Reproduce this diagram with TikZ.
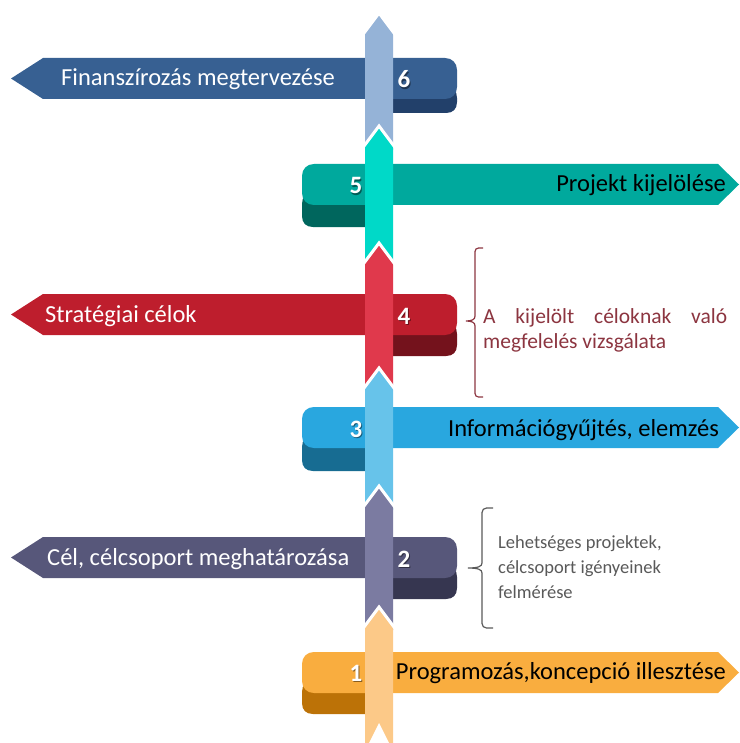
\documentclass[tikz,border=0pt]{standalone}
\usepackage{fontspec}
\setmainfont{Carlito}
\definecolor{cSixBand}{HTML}{376092}\definecolor{cSixFold}{HTML}{22406A}\definecolor{cSixPole}{HTML}{95B3D7}
\definecolor{cFiveBand}{HTML}{00A99D}\definecolor{cFiveFold}{HTML}{00665D}\definecolor{cFivePole}{HTML}{00D9C8}
\definecolor{cFourBand}{HTML}{BE1E2D}\definecolor{cFourFold}{HTML}{74121C}\definecolor{cFourPole}{HTML}{E0394C}
\definecolor{cThreeBand}{HTML}{29A7DF}\definecolor{cThreeFold}{HTML}{176C92}\definecolor{cThreePole}{HTML}{67C3EA}
\definecolor{cTwoBand}{HTML}{57577A}\definecolor{cTwoFold}{HTML}{363650}\definecolor{cTwoPole}{HTML}{7B7BA1}
\definecolor{cOneBand}{HTML}{F9AD3F}\definecolor{cOneFold}{HTML}{BC7207}\definecolor{cOnePole}{HTML}{FCC988}
\definecolor{cBrRed}{HTML}{8C3540}\definecolor{cBrGray}{HTML}{595959}
\newcommand\LRibbon[4]{%
  \fill[#3] (380,#1+28) -- (446,#1+28) .. controls (453,#1+28) and (457,#1+33) .. (457,#1+40)
    -- (457,#1+#4-11) .. controls (457,#1+#4-4) and (453,#1+#4) .. (446,#1+#4) -- (380,#1+#4) -- cycle;
  \fill[#2] (11,#1+20.5) -- (43,#1) -- (445,#1) .. controls (452,#1) and (457,#1+5) .. (457,#1+12)
    -- (457,#1+29) .. controls (457,#1+36) and (452,#1+41) .. (445,#1+41) -- (43,#1+41) -- cycle;}
\newcommand\RRibbon[4]{%
  \fill[#3] (378,#1+28) -- (313,#1+28) .. controls (306,#1+28) and (302,#1+33) .. (302,#1+40)
    -- (302,#1+#4-11) .. controls (302,#1+#4-4) and (306,#1+#4) .. (313,#1+#4) -- (378,#1+#4) -- cycle;
  \fill[#2] (739,#1+20.5) -- (718,#1) -- (314,#1) .. controls (307,#1) and (302,#1+5) .. (302,#1+12)
    -- (302,#1+29) .. controls (302,#1+36) and (307,#1+41) .. (314,#1+41) -- (718,#1+41) -- cycle;}
\newcommand\PoleSeg[3]{%
  \fill[#3] (365,#1+20) -- (379,#1) -- (393,#1+20) -- (393,#2) -- (365,#2) -- cycle;
  \draw[white, line width=3pt, line join=miter] (363,#1+21.4) -- (379,#1) -- (395,#1+21.4);}
\begin{document}
\begin{tikzpicture}[x=1pt,y=-1pt,
  bantext/.style={font=\fontsize{24.5}{29}\selectfont, inner sep=0pt},
  numtext/.style={font=\fontsize{25}{29}\selectfont\bfseries, inner sep=0pt, text=white, anchor=base},
  numshadow/.style={font=\fontsize{25}{29}\selectfont\bfseries, inner sep=0pt, text=black, opacity=0.45, anchor=base},
  brtext/.style={font=\fontsize{18.5}{22}\selectfont, inner sep=0pt, anchor=base west},
  brtextbig/.style={font=\fontsize{21.5}{25}\selectfont, inner sep=0pt, anchor=base west},
  bracket/.style={line width=1.2pt}]
\useasboundingbox (0,0) rectangle (739,743);
% ribbons
\LRibbon{58}{cSixBand}{cSixFold}{55}
\RRibbon{164}{cFiveBand}{cFiveFold}{63}
\LRibbon{294}{cFourBand}{cFourFold}{62}
\RRibbon{407}{cThreeBand}{cThreeFold}{64}
\LRibbon{537}{cTwoBand}{cTwoFold}{62}
\RRibbon{652}{cOneBand}{cOneFold}{62}
% pole
\PoleSeg{13}{150}{cSixPole}
\PoleSeg{126}{265}{cFivePole}
\PoleSeg{243}{390}{cFourPole}
\PoleSeg{368}{510}{cThreePole}
\PoleSeg{486}{630}{cTwoPole}
\PoleSeg{607}{760}{cOnePole}
\fill[white] (359,763) -- (379,723) -- (399,763) -- cycle;
% ribbon texts
\node[bantext, text=white, anchor=base west] (t6) at (61,86) {Finanszírozás megtervezése};
\node[bantext, anchor=base east] (t5) at (726,192) {Projekt kijelölése};
\node[bantext, text=white, anchor=base west] (t4) at (45,322) {Stratégiai célok};
\node[bantext, anchor=base east] (t3) at (719,436) {Információgyűjtés, elemzés};
\node[bantext, text=white, anchor=base west] (t2) at (47,565) {Cél, célcsoport meghatározása};
\node[bantext, anchor=base east] (t1) at (726,679) {Programozás,koncepció illesztése};
% numbers
\node[numshadow] (s6) at (405,89.5) {6};\node[numtext] (n6) at (404,88) {6};
\node[numshadow] (s5) at (357,195.5) {5};\node[numtext] (n5) at (356,194) {5};
\node[numshadow] (s4) at (405,325.5) {4};\node[numtext] (n4) at (404,324) {4};
\node[numshadow] (s3) at (357,438.5) {3};\node[numtext] (n3) at (356,437) {3};
\node[numshadow] (s2) at (405,568.5) {2};\node[numtext] (n2) at (404,567) {2};
\node[numshadow] (s1) at (357,682.5) {1};\node[numtext] (n1) at (356,681) {1};
% brackets
\draw[bracket, cBrRed] (483,248) -- (478.5,248) .. controls (476.5,248) and (475,249.5) .. (475,251.5)
  -- (475,316) .. controls (475,319.5) and (472,321) .. (466,321)
  .. controls (472,321) and (475,322.5) .. (475,326) -- (475,393.5)
  .. controls (475,395.5) and (476.5,397) .. (478.5,397) -- (483,397);
\draw[bracket, cBrGray] (493,508) -- (486.5,508) .. controls (484,508) and (482,510) .. (482,512.5)
  -- (482,563) .. controls (482,566.5) and (478,568) .. (468,568)
  .. controls (478,568) and (482,569.5) .. (482,573) -- (482,623.5)
  .. controls (482,626) and (484,628) .. (486.5,628) -- (493,628);
\node[brtextbig, text=cBrRed] (b4a) at (483,323) {\makebox[244pt][s]{A kijelölt céloknak való}};
\node[brtextbig, text=cBrRed] (b4b) at (483,348) {megfelelés vizsgálata};
\node[brtext, text=cBrGray] (b2a) at (498,548) {Lehetséges projektek,};
\node[brtext, text=cBrGray] (b2b) at (498,573) {célcsoport igényeinek};
\node[brtext, text=cBrGray] (b2c) at (498,598) {felmérése};
\end{tikzpicture}
\end{document}
